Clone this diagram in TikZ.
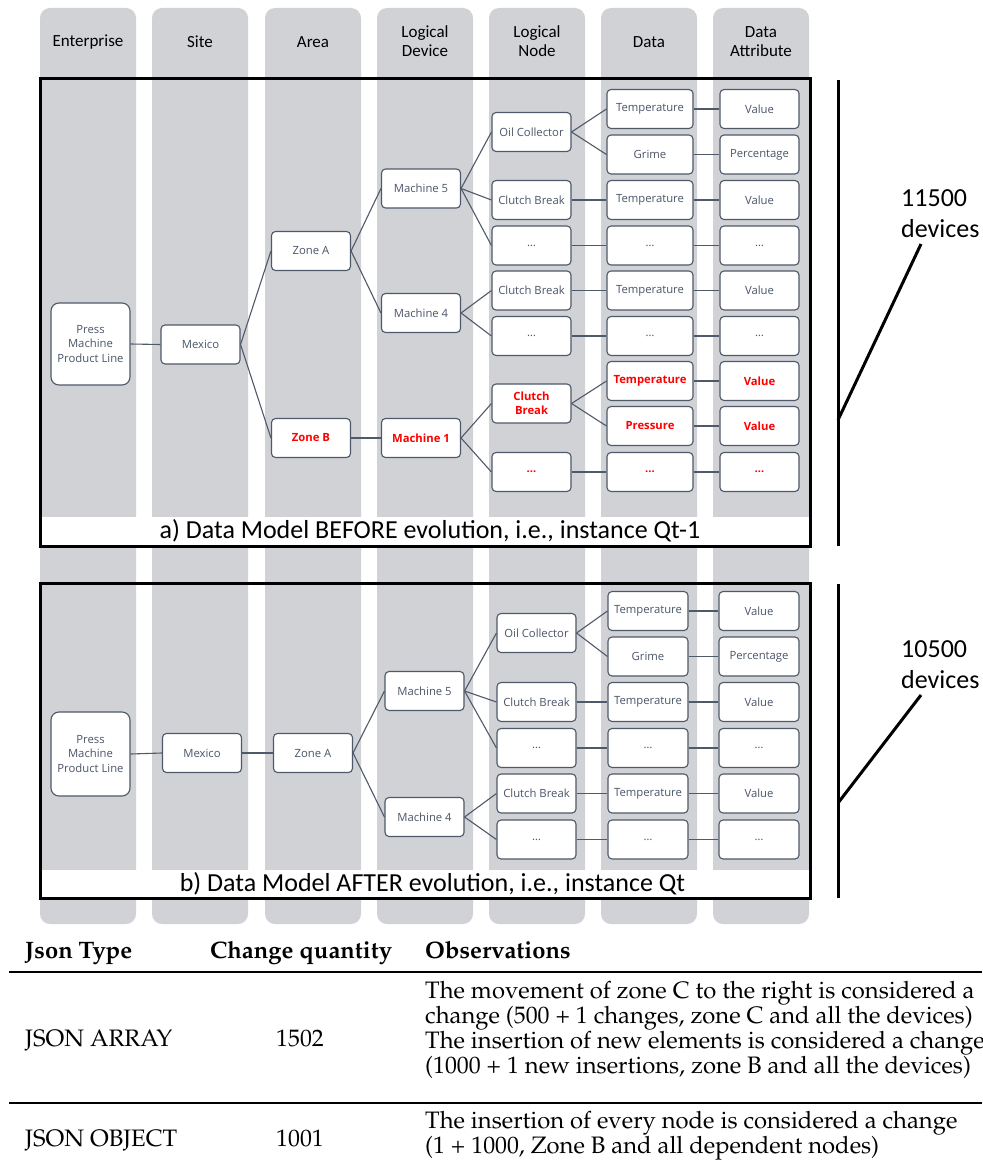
\documentclass[tikz,border=0pt]{standalone}
\usepackage[T1]{fontenc}
\usepackage{fontspec}
\usetikzlibrary{positioning}
\newfontfamily\osans{Open Sans}
\newfontfamily\carl{Carlito}
\newcommand{\pal}{\fontencoding{T1}\fontfamily{ppl}\selectfont}
\definecolor{laneg}{RGB}{208,210,214}
\definecolor{edgec}{RGB}{78,89,105}
\definecolor{txtc}{RGB}{74,85,104}
\definecolor{hot}{RGB}{255,0,0}
\tikzset{n/.style={rectangle,rounded corners=4,draw=edgec,line width=1.1,fill=white,text=txtc,
            font=\osans\fontsize{11.3}{14.5}\selectfont,minimum width=79,minimum height=39,inner sep=1,align=center},
         r/.style={n,text=hot,font=\osans\bfseries\fontsize{11.3}{14.5}\selectfont},
         d/.style={minimum width=86},
         l/.style={draw=edgec,line width=1.1},
         lane/.style={fill=laneg,rounded corners=10},
         hd/.style={font=\carl\fontsize{17}{19}\selectfont,align=center,inner sep=0},
         capt/.style={font=\carl\fontsize{26}{31}\selectfont,inner sep=0},
         cnt/.style={font=\carl\fontsize{26}{31}\selectfont,align=left,anchor=west,inner sep=0},
         bar/.style={line width=3},
         th/.style={font=\pal\bfseries\fontsize{23.8}{23}\selectfont,anchor=base west,inner sep=0},
         td/.style={font=\pal\fontsize{23.8}{22.8}\selectfont,inner sep=0}}

\begin{document}
\begin{tikzpicture}[x=1pt,y=-1pt]
\useasboundingbox (0,0) rectangle (982,1169);
% lanes
\fill[lane] (40,8) rectangle (136,924);
\fill[lane] (152,8) rectangle (248,924);
\fill[lane] (265,8) rectangle (361,924);
\fill[lane] (377,8) rectangle (473,924);
\fill[lane] (489,8) rectangle (585,924);
\fill[lane] (601,8) rectangle (697,924);
\fill[lane] (713,8) rectangle (809,924);
\node[hd] at (88,42)(h1){Enterprise};
\node[hd] at (200,42)(h2){Site};
\node[hd] at (313,42)(h3){Area};
\node[hd] at (425,41.5)(h4){Logical\\Device};
\node[hd] at (537,41.5)(h5){Logical\\Node};
\node[hd] at (649,42)(h6){Data};
\node[hd] at (761,41.5)(h7){Data\\Attribute};
% frames
\fill[white] (40,517) rectangle (810,546);
\fill[white] (40,870) rectangle (810,898);
\draw[bar] (40,79) rectangle (810,546);
\draw[bar] (40,583) rectangle (810,898);
\node[capt] at (430,531)(capa){a) Data Model BEFORE evolution, i.e., instance Qt-1};
\node[capt] at (432.5,884)(capb){b) Data Model AFTER evolution, i.e., instance Qt};

% a) before
\node[n,minimum height=82,rounded corners=8] at (90.5,344)(apm){Press\\Machine\\Product Line};
\node[n] at (200.5,344.5)(amx){Mexico};
\node[n] at (311,251)(aza){Zone A};
\node[r] at (311,438)(azb){Zone B};
\node[n] at (421,188.5)(am5){Machine 5};
\node[n] at (421,313)(am4){Machine 4};
\node[r] at (421,438)(am1){Machine 1};
\node[n] at (531.5,132)(aoc){Oil Collector};
\node[n] at (531.5,200)(acb5){Clutch Break};
\node[n] at (531.5,245.5)(ax5){…};
\node[n] at (531.5,290.5)(acb4){Clutch Break};
\node[n] at (531.5,336)(ax4){…};
\node[r] at (531.5,403.5)(acb1){Clutch\\Break};
\node[r] at (531.5,472)(ax1){…};
\node[n,d] at (650,109)(adt1){Temperature};
\node[n,d] at (650,154.5)(adg){Grime};
\node[n,d] at (650,200)(adt2){Temperature};
\node[n,d] at (650,245.5)(adx5){…};
\node[n,d] at (650,290.5)(adt3){Temperature};
\node[n,d] at (650,336)(adx4){…};
\node[r,d] at (650,381)(adt4){Temperature};
\node[r,d] at (650,426)(adp){Pressure};
\node[r,d] at (650,472)(adx1){…};
\node[n] at (759.5,109)(av1){Value};
\node[n] at (759.5,154.5)(apc){Percentage};
\node[n] at (759.5,200)(av2){Value};
\node[n] at (759.5,245.5)(avx5){…};
\node[n] at (759.5,290.5)(av3){Value};
\node[n] at (759.5,336)(avx4){…};
\node[r] at (759.5,381)(av4){Value};
\node[r] at (759.5,426)(av5){Value};
\node[r] at (759.5,472)(avx1){…};
\draw[l] (apm.east) -- (amx.west);
\draw[l] (amx.east) -- (aza.west);
\draw[l] (amx.east) -- (azb.west);
\draw[l] (aza.east) -- (am5.west);
\draw[l] (aza.east) -- (am4.west);
\draw[l] (azb.east) -- (am1.west);
\draw[l] (am5.east) -- (aoc.west);
\draw[l] (am5.east) -- (acb5.west);
\draw[l] (am5.east) -- (ax5.west);
\draw[l] (am4.east) -- (acb4.west);
\draw[l] (am4.east) -- (ax4.west);
\draw[l] (am1.east) -- (acb1.west);
\draw[l] (am1.east) -- (ax1.west);
\draw[l] (aoc.east) -- (adt1.west);
\draw[l] (aoc.east) -- (adg.west);
\draw[l] (acb5) -- (adt2);
\draw[l] (ax5) -- (adx5);
\draw[l] (acb4) -- (adt3);
\draw[l] (ax4) -- (adx4);
\draw[l] (acb1.east) -- (adt4.west);
\draw[l] (acb1.east) -- (adp.west);
\draw[l] (ax1) -- (adx1);
\draw[l] (adt1) -- (av1);
\draw[l] (adg) -- (apc);
\draw[l] (adt2) -- (av2);
\draw[l] (adx5) -- (avx5);
\draw[l] (adt3) -- (av3);
\draw[l] (adx4) -- (avx4);
\draw[l] (adt4) -- (av4);
\draw[l] (adp) -- (av5);
\draw[l] (adx1) -- (avx1);

% b) after
\node[n,minimum height=84,rounded corners=8] at (90.5,754)(bpm){Press\\Machine\\Product Line};
\node[n] at (202,753)(bmx){Mexico};
\node[n] at (313,753)(bza){Zone A};
\node[n] at (424.5,691)(bm5){Machine 5};
\node[n] at (424.5,817)(bm4){Machine 4};
\node[n] at (536.5,633)(boc){Oil Collector};
\node[n] at (536.5,702)(bcb5){Clutch Break};
\node[n] at (536.5,748)(bx5){…};
\node[n] at (536.5,793.5)(bcb4){Clutch Break};
\node[n] at (536.5,839.5)(bx4){…};
\node[n,minimum width=80] at (648,611)(bdt1){Temperature};
\node[n,minimum width=80] at (648,656.5)(bdg){Grime};
\node[n,minimum width=80] at (648,702)(bdt2){Temperature};
\node[n,minimum width=80] at (648,748)(bdx5){…};
\node[n,minimum width=80] at (648,793.5)(bdt3){Temperature};
\node[n,minimum width=80] at (648,839.5)(bdx4){…};
\node[n,minimum width=80] at (759,611)(bv1){Value};
\node[n,minimum width=80] at (759,656.5)(bpc){Percentage};
\node[n,minimum width=80] at (759,702)(bv2){Value};
\node[n,minimum width=80] at (759,748)(bvx5){…};
\node[n,minimum width=80] at (759,793.5)(bv3){Value};
\node[n,minimum width=80] at (759,839.5)(bvx4){…};
\draw[l] (bpm.east) -- (bmx.west);
\draw[l] (bmx) -- (bza);
\draw[l] (bza.east) -- (bm5.west);
\draw[l] (bza.east) -- (bm4.west);
\draw[l] (bm5.east) -- (boc.west);
\draw[l] (bm5.east) -- (bcb5.west);
\draw[l] (bm5.east) -- (bx5.west);
\draw[l] (bm4.east) -- (bcb4.west);
\draw[l] (bm4.east) -- (bx4.west);
\draw[l] (boc.east) -- (bdt1.west);
\draw[l] (boc.east) -- (bdg.west);
\draw[l] (bcb5) -- (bdt2);
\draw[l] (bx5) -- (bdx5);
\draw[l] (bcb4) -- (bdt3);
\draw[l] (bx4) -- (bdx4);
\draw[l] (bdt1) -- (bv1);
\draw[l] (bdg) -- (bpc);
\draw[l] (bdt2) -- (bv2);
\draw[l] (bdx5) -- (bvx5);
\draw[l] (bdt3) -- (bv3);
\draw[l] (bdx4) -- (bvx4);

% device counts
\coordinate (ba1) at (838,80);
\coordinate (ba2) at (838,546);
\coordinate (bak) at (838,420);
\coordinate (bat) at (921,244);
\draw[bar] (ba1) -- (ba2);
\draw[bar] (bak) -- (bat);
\node[cnt] at (901,213.5)(na){11500\\devices};
\coordinate (bb1) at (838,584);
\coordinate (bb2) at (838,898);
\coordinate (bbk) at (838,803);
\coordinate (bbt) at (921,695);
\draw[bar] (bb1) -- (bb2);
\draw[bar] (bbk) -- (bbt);
\node[cnt] at (901,664.5)(nb){10500\\devices};

% table
\node[th] at (25,958)(tj){Json Type};
\node[th] at (210,958)(tc){Change quantity};
\node[th] at (425,958)(to){Observations};
\draw[line width=1.5] (9,972) -- (982,972);
\draw[line width=1.5] (9,1103) -- (982,1103);
\node[td,anchor=base west] at (25,1046)(tja){JSON ARRAY};
\node[td,anchor=base] at (300,1046)(tqa){1502};
\node[td,anchor=west,align=left] at (425,1030)(toa){The movement of zone C to the right is considered a\\change (500 + 1 changes, zone C and all the devices)\\The insertion of new elements is considered a change\\(1000 + 1 new insertions, zone B and all the devices)};
\node[td,anchor=base west] at (25,1146)(tjo){JSON OBJECT};
\node[td,anchor=base] at (300,1146)(tqo){1001};
\node[td,anchor=west,align=left] at (425,1136)(too){The insertion of every node is considered a change\\(1 + 1000, Zone B and all dependent nodes)};
\end{tikzpicture}
\end{document}
